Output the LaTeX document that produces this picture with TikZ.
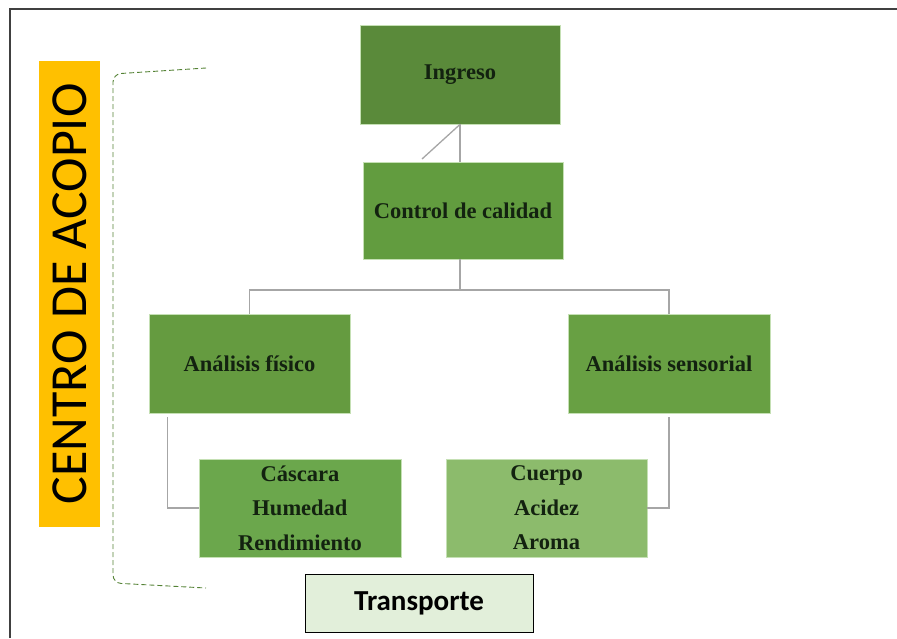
\documentclass[tikz,border=0pt]{standalone}
\usepackage{fontspec}
\setmainfont{Liberation Serif}
\newfontfamily\calib{Carlito}
\usetikzlibrary{calc}
\definecolor{frameline}{HTML}{404040}
\definecolor{linkgray}{HTML}{A6A6A6}
\definecolor{gA}{HTML}{5A8A3A}
\definecolor{gB}{HTML}{629C3F}
\definecolor{gC}{HTML}{659B40}
\definecolor{gD}{HTML}{68A043}
\definecolor{gE}{HTML}{6BA74C}
\definecolor{gF}{HTML}{8CBB6C}
\definecolor{edgeglow}{HTML}{C5E0B4}
\definecolor{accent}{HTML}{FFC000}
\definecolor{transfill}{HTML}{E2EFDA}
\definecolor{bracegreen}{HTML}{548235}
\definecolor{inktext}{HTML}{132210}
\tikzset{
  procbox/.style={draw=edgeglow, line width=0.8pt, minimum width=200pt, minimum height=98pt,
    align=center, inner sep=0pt, font=\fontsize{22.5}{34.5}\selectfont\bfseries, text=inktext},
  link/.style={draw=linkgray, line width=1.3pt},
}
\begin{document}
\begin{tikzpicture}[x=1pt, y=-1pt]
  \useasboundingbox (0,0) rectangle (897,638);
  % page frame (top and left edges)
  \draw[frameline, line width=1.5pt] (10,638) -- (10,9) -- (897,9);

  % side label
  \node[fill=accent, minimum width=61pt, minimum height=466pt, inner sep=0pt] (side) at (69.5,294) {};
  \node[rotate=90, font=\calib\fontsize{52}{52}\selectfont, text=black] (sidetext) at (side.center) {CENTRO DE ACOPIO};

  % dashed bracket grouping the process
  \coordinate (bt) at (206,68);
  \coordinate (bb) at (206,588);
  \draw[bracegreen, dashed, line width=0.9pt, dash pattern=on 5pt off 3pt, rounded corners=8pt]
    (bt) -- (113,74) -- (113,583) -- (bb);

  % process boxes
  \node[procbox, fill=gA, minimum height=99pt] (ingreso) at (460,74.5) {Ingreso};
  \node[procbox, fill=gB, minimum height=97pt] (control) at (463,210.5) {Control de calidad};
  \node[procbox, fill=gC, minimum width=201pt, minimum height=99pt] (fisico) at (249.5,363.5) {Análisis físico};
  \node[procbox, fill=gD, minimum width=202pt, minimum height=99pt] (sensorial) at (669,363.5) {Análisis sensorial};
  \node[procbox, fill=gE, minimum width=202pt] (fisicolist) at (300,508) {Cáscara\\Humedad\\Rendimiento};
  \node[procbox, fill=gF, minimum width=201pt] (sensolist) at (546.5,508) {Cuerpo\\Acidez\\Aroma};

  \node[draw=black, line width=0.8pt, fill=transfill, minimum width=228pt, minimum height=58pt,
        font=\calib\bfseries\fontsize{29}{29}\selectfont] (transporte) at (419,603) {Transporte};

  % connectors
  \coordinate (diag) at (422,159);
  \coordinate (hub) at (460,290);
  \draw[link] (ingreso.south) -- (ingreso.south |- control.north);
  \draw[link] (ingreso.south) -- (diag);
  \draw[link] (control.south -| hub) -- (hub);
  \draw[link] (fisico.north) |- (hub) -| (sensorial.north);
  \draw[link] ($(fisico.south west)+(19,4)$) |- (fisicolist.west);
  \draw[link] ($(sensorial.south)+(0,4)$) |- (sensolist.east);
\end{tikzpicture}
\end{document}
